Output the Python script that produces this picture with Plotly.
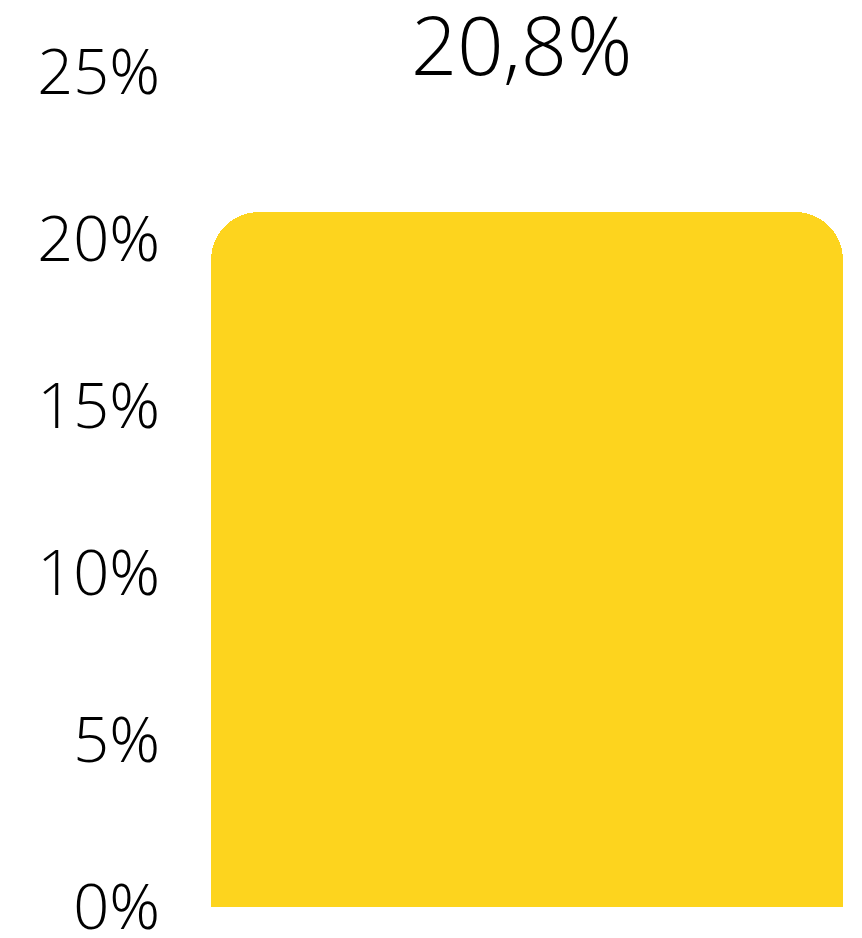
import plotly.graph_objects as go

# chart data
categories = ["Total"]
values = [20.8]
tick_values = [0, 5, 10, 15, 20, 25]
tick_labels = ["0%", "5%", "10%", "15%", "20%", "25%"]

bar_color = "#FDD41E"
font_family = "Open Sans Light, Open Sans"

fig = go.Figure()
fig.add_trace(go.Bar(
    x=categories,
    y=values,
    marker=dict(color=bar_color, cornerradius=48, line=dict(width=0)),
    hoverinfo="skip",
))

# value label above the plot
for cat, val in zip(categories, values):
    fig.add_annotation(
        x=cat, y=1, xref="x", yref="paper",
        text=f"{val:.1f}".replace(".", ",") + "%",
        showarrow=False, yanchor="middle", yshift=29, xshift=-6,
        font=dict(family=font_family, size=81, color="#000000", weight=300),
    )

# page body adds 8px, so the figure is 8px smaller than the window
fig.update_layout(
    width=854, height=930,
    margin=dict(l=203, r=19, t=64, b=31),
    paper_bgcolor="white",
    plot_bgcolor="white",
    bargap=0,
    showlegend=False,
    xaxis=dict(visible=False, range=[-0.5, 0.5], automargin=False),
    yaxis=dict(
        range=[0, 25],
        tickvals=tick_values,
        ticktext=tick_labels,
        showgrid=False,
        zeroline=False,
        showline=False,
        ticks="",
        automargin=False,
        ticklabelstandoff=50,
        ticklabeloverflow="allow",
        tickfont=dict(family=font_family, size=63, color="#000000", weight=300),
    ),
)

fig.write_html("out.html")
